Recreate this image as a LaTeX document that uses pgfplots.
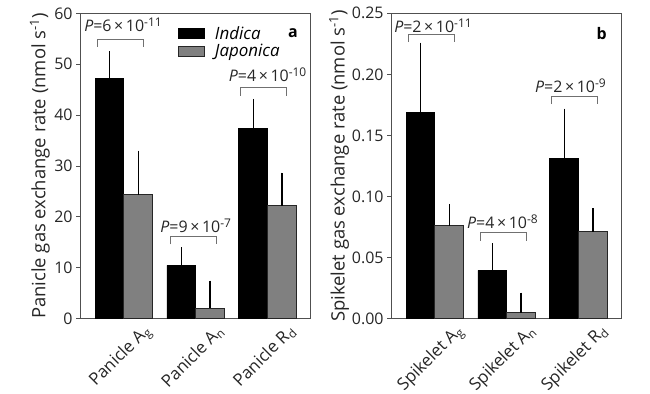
\documentclass[border=0pt]{standalone}
\usepackage{fontspec}
\setmainfont{Open Sans}
\usepackage{pgfplots}
\pgfplotsset{compat=1.18}
\definecolor{jap}{HTML}{808080}
\definecolor{frm}{HTML}{505050}
\definecolor{brk}{HTML}{707070}
\newcommand{\fs}{\fontsize{16}{18}\selectfont}
\newcommand{\fl}{\fontsize{18.5}{20}\selectfont}
\newcommand{\fx}{\fontsize{17}{19}\selectfont}
\newcommand{\fg}{\fontsize{17}{19}\selectfont}
\newcommand{\pv}[2]{\textit{P}=#1\,×\,10{\fontsize{12}{12}\selectfont\raisebox{0.42em}{-#2}}}
\begin{document}
\begin{tikzpicture}
\path[use as bounding box] (0,0) rectangle (650bp,-394bp);
\pgfplotsset{
 myax/.style={
  scale only axis, width=230bp, height=305.4bp,
  xmin=0.39, xmax=3.59, ymin=0,
  xtick={1,2,3}, major x tick style={draw=none},
  ytick pos=left,
  axis line style={frm, line width=0.9pt},
  major y tick style={frm, line width=0.8pt},
  tick align=outside, major tick length=4bp,
  ticklabel style={font=\fs, text=black!85},
  /pgf/number format/assume math mode=true,
  label style={font=\fl, text=black!85},
  xticklabel style={font=\fx, yshift=-34bp, xshift=-3bp, rotate=45, anchor=center},
  legend style={draw=none, fill=none, inner sep=0pt, font=\fg\itshape, row sep=0bp, cells={anchor=west},
    /tikz/every odd column/.append style={column sep=8bp}},
  legend image code/.code={\draw[line width=0.8pt,##1] (0bp,-4.8bp) rectangle (26bp,4.8bp);},
 },
 indica/.style={ybar, bar shift=0pt, bar width=28.8bp, fill=black, draw=black, line width=0.8pt,
   error bars/.cd, y dir=plus, y explicit, error mark=none, error bar style={line width=1.3pt, black}},
 japonica/.style={ybar, bar shift=0pt, bar width=28.8bp, fill=jap, draw=black!85, line width=0.8pt,
   error bars/.cd, y dir=plus, y explicit, error mark=none, error bar style={line width=1.3pt, black}},
 brack/.style={brk, line width=0.8pt, sharp plot, mark=none},
}
% Panel a
\begin{axis}[myax, at={(80bp,-13.3bp)}, anchor=north west,
  ymax=60, ytick={0,10,20,30,40,50,60},
  ylabel={Panicle gas exchange rate (nmol s\textsuperscript{-1})},
  ylabel style={at={(rel axis cs:-0.174,0.5)}, anchor=center},
  xticklabels={Panicle A\textsubscript{g}, Panicle A\textsubscript{n}, Panicle R\textsubscript{d}},
  legend style={at={(axis description cs:0.426,0.965)}, anchor=north west},
]
\addlegendimage{fill=black, draw=black}
\addlegendentry{Indica}
\addlegendimage{fill=jap, draw=black!85}
\addlegendentry{Japonica}
\addplot[indica] table[x=x, y=y, y error=e] {
x y e
0.8 47.2 5.3
1.8 10.5 3.5
2.8 37.3 5.9
};
\addplot[japonica] table[x=x, y=y, y error=e] {
x y e
1.2 24.4 8.6
2.2 2.1 5.4
3.2 22.2 6.5
};
\addplot[brack] coordinates {(0.636,53.4) (0.636,54.9) (1.279,54.9) (1.279,53.4)};
\addplot[brack] coordinates {(1.654,14.6) (1.654,16.1) (2.293,16.1) (2.293,14.6)};
\addplot[brack] coordinates {(2.626,43.8) (2.626,45.4) (3.261,45.4) (3.261,43.8)};
\node[font=\fs, text=black!85] at (axis cs:0.988,57.8) {\pv{6}{11}};
\node[font=\fs, text=black!85] at (axis cs:2.0,18.2) {\pv{9}{7}};
\node[font=\fs, text=black!85] at (axis cs:3.0,47.9) {\pv{4}{10}};
\node[font=\fs\bfseries] at (rel axis cs:0.926,0.935) {a};
\end{axis}
% Panel b
\begin{axis}[myax, at={(391bp,-13.3bp)}, anchor=north west,
  ymax=0.25, ytick={0,0.05,0.1,0.15,0.2,0.25}, scaled y ticks=false,
  yticklabel style={/pgf/number format/.cd, fixed, fixed zerofill, precision=2},
  ylabel={Spikelet gas exchange rate (nmol s\textsuperscript{-1})},
  ylabel style={at={(rel axis cs:-0.226,0.5)}, anchor=center},
  xticklabels={Spikelet A\textsubscript{g}, Spikelet A\textsubscript{n}, Spikelet R\textsubscript{d}},
  xticklabel style={yshift=-1bp, xshift=-2bp},
]
\addplot[indica] table[x=x, y=y, y error=e] {
x y e
0.8 0.169 0.057
1.8 0.0396 0.022
2.8 0.131 0.041
};
\addplot[japonica] table[x=x, y=y, y error=e] {
x y e
1.2 0.076 0.018
2.2 0.005 0.0163
3.2 0.0712 0.0192
};
\addplot[brack] coordinates {(0.631,0.2265) (0.631,0.233) (1.27,0.233) (1.27,0.2265)};
\addplot[brack] coordinates {(1.632,0.064) (1.632,0.0704) (2.272,0.0704) (2.272,0.064)};
\addplot[brack] coordinates {(2.615,0.1757) (2.615,0.1817) (3.265,0.1817) (3.265,0.1757)};
\node[font=\fs, text=black!85] at (axis cs:0.974,0.2396) {\pv{2}{11}};
\node[font=\fs, text=black!85] at (axis cs:1.941,0.0794) {\pv{4}{8}};
\node[font=\fs, text=black!85] at (axis cs:2.887,0.191) {\pv{2}{9}};
\node[font=\fs\bfseries] at (rel axis cs:0.916,0.935) {b};
\end{axis}
\end{tikzpicture}
\end{document}
